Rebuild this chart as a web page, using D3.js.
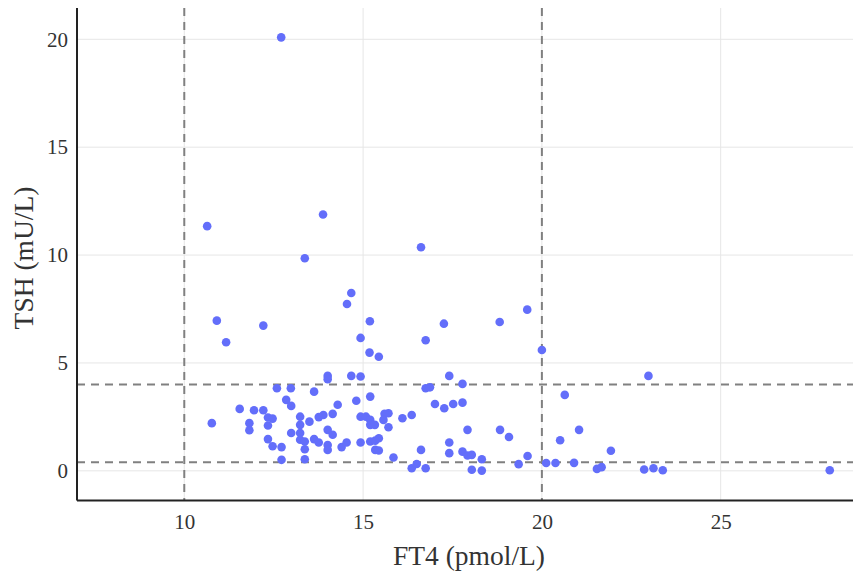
<!DOCTYPE html>
<html><head><meta charset="utf-8">
<script src="https://cdn.jsdelivr.net/npm/d3@7/dist/d3.min.js"></script>
<style>body{margin:0;background:#fff}svg{display:block}</style>
</head><body>
<svg id="chart" width="853" height="575"></svg>
<script>
const ft4 = [12.71,10.64,13.88,13.37,16.62,14.67,14.55,15.19,17.26,18.82,19.59,14.93,16.75,15.18,15.44,20.00,10.91,11.17,12.21,
 22.98,20.64,21.04,20.51,21.93,20.38,20.90,21.54,21.67,22.86,23.12,23.38,28.05,20.12,
 12.59,12.98,12.85,12.99,10.77,11.55,11.95,12.21,12.34,12.47,11.82,11.82,12.34,12.99,12.34,12.47,12.72,12.72,
 14.01,14.01,14.67,14.93,13.63,15.20,14.81,14.29,14.15,13.89,13.76,13.50,13.24,14.93,15.08,15.20,15.20,15.33,13.24,14.01,14.15,13.24,13.37,13.37,13.63,13.76,14.01,14.01,14.40,14.54,14.93,15.20,15.34,15.44,15.34,15.44,13.37,
 17.41,16.75,16.87,17.78,17.01,17.27,17.52,17.78,15.71,15.60,15.57,16.36,16.10,15.71,16.62,17.41,17.41,17.78,15.85,16.36,16.50,16.75,
 17.92,18.83,19.08,17.92,18.04,18.32,18.04,18.32,19.35,19.60,13.24];
const tsh = [20.09,11.34,11.88,9.85,10.36,8.24,7.73,6.93,6.82,6.90,7.47,6.16,6.05,5.48,5.29,5.60,6.96,5.96,6.73,
 4.40,3.52,1.90,1.42,0.93,0.36,0.37,0.09,0.17,0.06,0.12,0.03,0.03,0.36,
 3.83,3.83,3.29,3.01,2.21,2.87,2.81,2.81,2.47,2.42,2.21,1.88,2.10,1.75,1.47,1.14,1.10,0.51,
 4.40,4.25,4.40,4.37,3.67,3.44,3.25,3.06,2.64,2.59,2.49,2.28,2.13,2.51,2.51,2.36,2.13,2.13,1.75,1.90,1.67,1.44,1.36,1.00,1.47,1.31,1.20,0.97,1.10,1.31,1.31,1.36,1.40,1.51,0.97,0.94,0.54,
 4.40,3.83,3.87,4.03,3.10,2.90,3.10,3.16,2.67,2.64,2.36,2.59,2.44,2.02,0.97,1.31,0.82,0.89,0.62,0.12,0.32,0.12,
 1.90,1.90,1.57,0.71,0.74,0.54,0.05,0.01,0.31,0.69,2.51];
const xTicks = [10,15,20,25];
const yTicks = [0,5,10,15,20];
const refX = [10,20];
const refY = [0.4,4];
const xLabel = "FT4 (pmol/L)";
const yLabel = "TSH (mU/L)";

const svg = d3.select("#chart");
const L = 77, R = 853, T = 8, B = 500.5;
const x = d3.scaleLinear().domain([7, 28.7]).range([L, R]);
const y = d3.scaleLinear().domain([-1.375, 21.45]).range([B, T]);
const serif = "'Liberation Serif','Times New Roman',serif";

// gridlines
svg.append("g").selectAll("line").data(xTicks).join("line")
  .attr("x1", d=>x(d)).attr("x2", d=>x(d)).attr("y1", T).attr("y2", B)
  .attr("stroke", "#e6e6e6").attr("stroke-width", 1);
svg.append("g").selectAll("line").data(yTicks).join("line")
  .attr("x1", L).attr("x2", R).attr("y1", d=>y(d)).attr("y2", d=>y(d))
  .attr("stroke", "#e6e6e6").attr("stroke-width", 1);

// reference dashed lines
svg.append("g").selectAll("line").data(refX).join("line")
  .attr("x1", d=>x(d)).attr("x2", d=>x(d)).attr("y1", T).attr("y2", B)
  .attr("stroke", "#808080").attr("stroke-width", 2).attr("stroke-dasharray", "8,6");
svg.append("g").selectAll("line").data(refY).join("line")
  .attr("x1", L).attr("x2", R).attr("y1", d=>y(d)).attr("y2", d=>y(d))
  .attr("stroke", "#808080").attr("stroke-width", 2).attr("stroke-dasharray", "8,6");

// points
svg.append("g").selectAll("circle").data(ft4.map((v,i)=>[v,tsh[i]])).join("circle")
  .attr("cx", d=>x(d[0])).attr("cy", d=>y(d[1])).attr("r", 4.3)
  .attr("fill", "#636efa");

// axes
const xAxis = svg.append("g").attr("transform", `translate(0,${B})`)
  .call(d3.axisBottom(x).tickValues(xTicks).tickSize(0).tickPadding(14).tickFormat(d3.format("d")));
const yAxis = svg.append("g").attr("transform", `translate(${L},0)`)
  .call(d3.axisLeft(y).tickValues(yTicks).tickSize(0).tickPadding(9).tickFormat(d3.format("d")));
[xAxis, yAxis].forEach(g => {
  g.select(".domain").attr("stroke", "#222").attr("stroke-width", 2);
  g.selectAll("text").attr("font-family", serif).attr("font-size", 21).attr("fill", "#333");
});
xAxis.select(".domain").attr("d", `M${L},0H${R}`);
yAxis.select(".domain").attr("d", `M0,${T}V${B}`);

svg.append("text").attr("x", 469).attr("y", 565).attr("text-anchor", "middle")
  .attr("font-family", serif).attr("font-size", 27.5).attr("fill", "#333").text(xLabel);
svg.append("text").attr("transform", `translate(33,258) rotate(-90)`).attr("text-anchor", "middle")
  .attr("font-family", serif).attr("font-size", 27.5).attr("fill", "#333").text(yLabel);
</script>
</body></html>
